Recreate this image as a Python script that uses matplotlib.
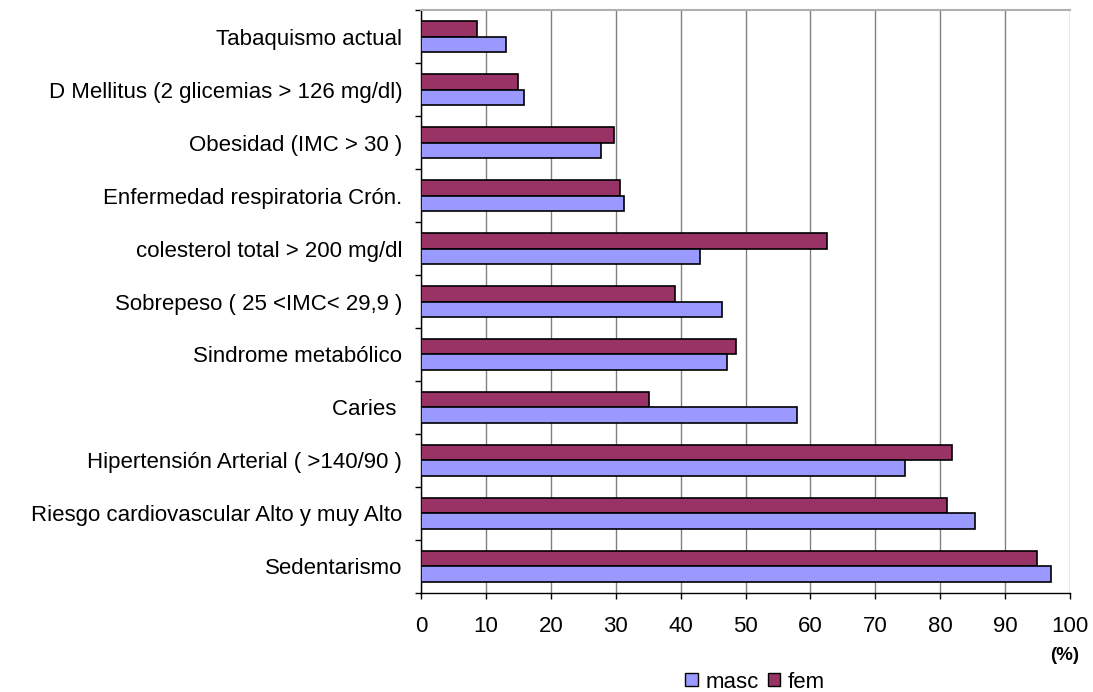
import numpy as np
import matplotlib.pyplot as plt
from matplotlib.patches import Patch

plt.rcParams['font.family'] = ['Liberation Sans', 'DejaVu Sans']

categorias = [
    'Tabaquismo actual',
    'D Mellitus (2 glicemias > 126 mg/dl)',
    'Obesidad (IMC > 30 )',
    'Enfermedad respiratoria Crón.',
    'colesterol total > 200 mg/dl',
    'Sobrepeso ( 25 <IMC< 29,9 )',
    'Sindrome metabólico',
    'Caries ',
    'Hipertensión Arterial ( >140/90 )',
    'Riesgo cardiovascular Alto y muy Alto',
    'Sedentarismo',
]
masc = [13.1, 15.8, 27.7, 31.3, 43.0, 46.4, 47.1, 57.9, 74.6, 85.4, 97.0]
fem = [8.7, 14.9, 29.8, 30.7, 62.6, 39.1, 48.5, 35.2, 81.8, 81.0, 94.9]
xticks = list(range(0, 101, 10))

c_masc = '#9999FF'
c_fem = '#993366'

fig = plt.figure(figsize=(10.93, 6.92), dpi=100)
ax = fig.add_axes([0.3852, 0.1431, 0.5938, 0.8424])

y = np.arange(len(categorias))
h = 0.285
ax.barh(y - h / 2, fem, height=h, color=c_fem, edgecolor='black', linewidth=1.2, zorder=3)
ax.barh(y + h / 2, masc, height=h, color=c_masc, edgecolor='black', linewidth=1.2, zorder=3)

ax.set_xlim(0, 100)
ax.set_ylim(len(categorias) - 0.5, -0.5)
ax.set_xticks(xticks)
ax.set_xticklabels([str(t) for t in xticks], fontsize=16)
ax.tick_params(axis='x', direction='out', length=4.3, width=1, pad=12.5)

ax.set_yticks(y)
ax.set_yticklabels(categorias, fontsize=16)
ax.tick_params(axis='y', length=0, pad=13.5)
ax.set_yticks(np.arange(len(categorias) + 1) - 0.5, minor=True)
ax.tick_params(axis='y', which='minor', direction='out', length=4.3, width=1)

ax.xaxis.grid(True, color='#808080', linewidth=1, zorder=0)
ax.set_axisbelow(True)
ax.spines['right'].set_visible(False)
ax.spines['top'].set_color('#b0b0b0')
ax.spines['top'].set_linewidth(1.5)
ax.spines['left'].set_linewidth(1)
ax.spines['bottom'].set_linewidth(1)

fig.text(1065 / 1093, 1 - 655 / 692, '(%)', fontsize=13.5, fontweight='bold', ha='center', va='center')

handles = [Patch(facecolor=c_masc, edgecolor='black'), Patch(facecolor=c_fem, edgecolor='black')]
fig.legend(handles, ['masc', 'fem'], loc='center', bbox_to_anchor=(755 / 1093, 1 - 682 / 692), ncol=2,
           frameon=False, fontsize=16, handlelength=0.55, handleheight=0.55,
           handletextpad=0.35, columnspacing=0.4, borderpad=0.1)

fig.savefig('out.png', dpi=100)
